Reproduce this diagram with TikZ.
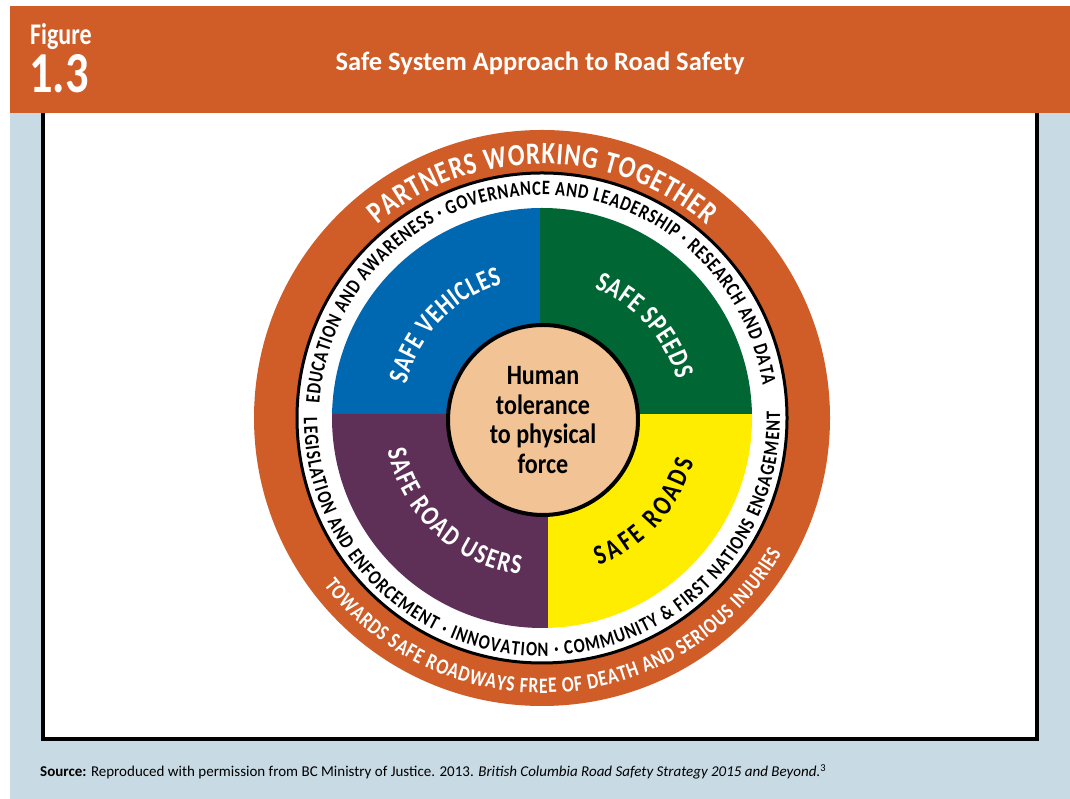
\documentclass[tikz,border=0pt]{standalone}
\usepackage{fontspec}
\setmainfont{Carlito}
\newfontfamily\condfont{Carlito}[FakeStretch=0.8]
\newfontfamily\corefont{Carlito}[FakeStretch=0.86]
\usetikzlibrary{positioning, decorations.text, calc}

\definecolor{bannerorange}{RGB}{208,92,39}
\definecolor{panelblue}{RGB}{200,218,227}
\definecolor{vehicleblue}{RGB}{0,103,177}
\definecolor{speedgreen}{RGB}{0,102,51}
\definecolor{roadyellow}{RGB}{255,237,0}
\definecolor{userpurple}{RGB}{94,48,88}
\definecolor{corepeach}{RGB}{242,195,148}

\newcommand{\ringfont}{\condfont\bfseries\fontsize{20.5}{22}\selectfont}
\newcommand{\bandfont}{\condfont\bfseries\fontsize{31}{33}\selectfont}
\newcommand{\towardsfont}{\condfont\bfseries\fontsize{22}{24}\selectfont}
\newcommand{\sectorfont}{\condfont\bfseries\fontsize{28}{30}\selectfont}

\begin{document}
\begin{tikzpicture}[x=1pt, y=1pt]

	\tikzstyle{arctext}=[decorate, decoration={text along path, text align=fit to path}]
	\tikzstyle{blacktext}=[arctext, decoration={text color=black}]
	\tikzstyle{whitetext}=[arctext, decoration={text color=white}]
	\tikzstyle{core}=[circle, draw, line width=4, fill=corepeach, minimum size=190, inner sep=0, align=center]

	% page and frame
	\fill[white] (0,0) rectangle (1070,799);
	\useasboundingbox (0,0) rectangle (1070,799);
	\fill[panelblue] (10,0) rectangle (1070,686);
	\filldraw[fill=white, draw=black, line width=4] (43,59.5) rectangle (1037,700);
	\fill[bannerorange] (10,686) rectangle (1070,793);

	\node[anchor=base west, inner sep=0, text=white, font=\condfont\bfseries\fontsize{30}{32}\selectfont] (fig_label) at (30,754) {Figure};
	\node[anchor=base west, inner sep=0, text=white, font=\condfont\bfseries\fontsize{58}{60}\selectfont] (fig_num) at (29,706) {1.3};
	\node[text=white, font=\bfseries\fontsize{26.5}{28}\selectfont] (fig_title) at (540,736) {Safe System Approach to Road Safety};

	\node[anchor=base west, inner sep=0, font=\fontsize{15}{17}\selectfont] (source_note) at (40,22) {\textbf{Source:} Reproduced with permission from BC Ministry of Justice. 2013. \textit{British Columbia Road Safety Strategy 2015 and Beyond.}\textsuperscript{3}};

	% wheel
	\coordinate (hub) at (542,381);
	\fill[bannerorange] (hub) circle[radius=288];
	\filldraw[fill=white, draw=black, line width=3] (hub) circle[radius=245];

	\begin{scope}
	\clip (hub) circle[radius=210];
	\fill[vehicleblue] (320,384.5) rectangle (540,600);
	\fill[speedgreen] (540,384.5) rectangle (760,600);
	\fill[userpurple] (320,384.5) rectangle (548,160);
	\fill[roadyellow] (548,384.5) rectangle (760,160);
	\end{scope}

	\node[core, font=\corefont\bfseries\fontsize{28}{29.5}\selectfont] (core) at (543,379) {Human\\tolerance\\to physical\\force};

	% sector labels
	\path[whitetext, decoration={text={|\sectorfont|SAFE VEHICLES}}]
		($(hub)+(166:140)$) arc[start angle=166, end angle=106.5, radius=140];
	\path[whitetext, decoration={text={|\sectorfont|SAFE SPEEDS}}]
		($(hub)+(68:140)$) arc[start angle=68, end angle=16, radius=140];
	\path[whitetext, decoration={text={|\sectorfont|SAFE ROAD USERS}}]
		($(hub)+(192:158)$) arc[start angle=192, end angle=262, radius=158];
	\path[blacktext, decoration={text={|\sectorfont|SAFE ROADS}}]
		($(hub)+(-69:158)$) arc[start angle=-69, end angle=-16, radius=158];

	% white ring
	\path[blacktext, decoration={text={|\ringfont|EDUCATION AND AWARENESS · GOVERNANCE AND LEADERSHIP · RESEARCH AND DATA}}]
		($(hub)+(176.3:223)$) arc[start angle=176.3, end angle=8.4, radius=223];
	\path[blacktext, decoration={text={|\ringfont|LEGISLATION AND ENFORCEMENT · INNOVATION · COMMUNITY {\&} FIRST NATIONS ENGAGEMENT}}]
		($(hub)+(180:238)$) arc[start angle=180, end angle=361.5, radius=238];

	% orange band
	\path[whitetext, decoration={text={|\bandfont|PARTNERS WORKING TOGETHER}}]
		($(hub)+(130.5:254)$) arc[start angle=130.5, end angle=49.5, radius=254];
	\path[whitetext, decoration={text={|\towardsfont|TOWARDS SAFE ROADWAYS FREE OF DEATH AND SERIOUS INJURIES}}]
		($(hub)+(217.5:275)$) arc[start angle=217.5, end angle=330.5, radius=275];

\end{tikzpicture}
\end{document}
